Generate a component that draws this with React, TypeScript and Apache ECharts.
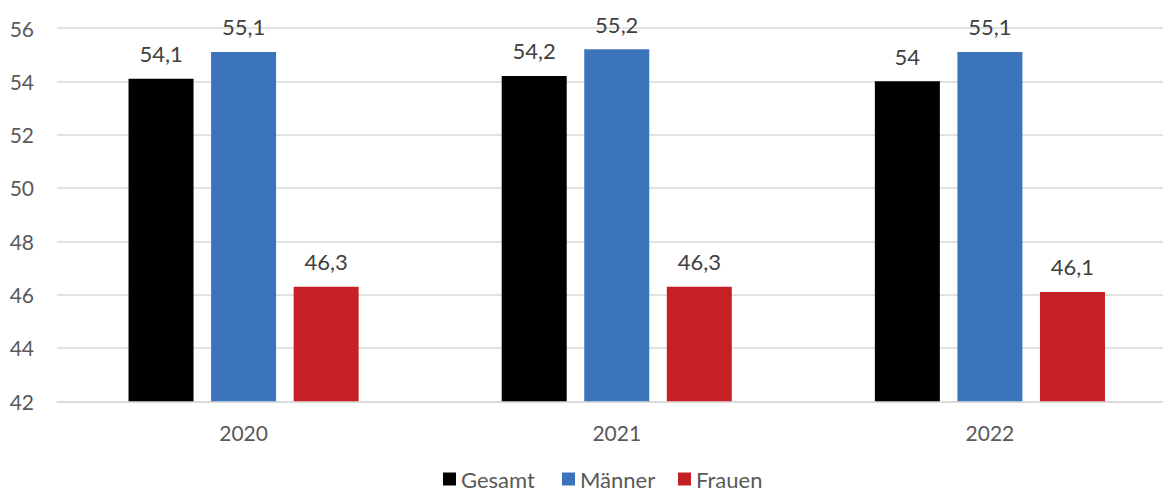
import React, { useEffect, useRef } from "react";
import * as echarts from "echarts";

const categories = ["2020", "2021", "2022"];
const gesamt = [54.1, 54.2, 54];
const maenner = [55.1, 55.2, 55.1];
const frauen = [46.3, 46.3, 46.1];
const seriesNames = ["Gesamt", "Männer", "Frauen"];
const colors = ["#000000", "#3C74BB", "#C42026"];
const legendLefts = [443, 562, 678];

const FONT = "Lato, 'Open Sans', sans-serif";

export default function App() {
  const ref = useRef<HTMLDivElement>(null);
  useEffect(() => {
    if (!ref.current) return;
    const chart = echarts.init(ref.current, undefined, { renderer: "svg" });
    const fmt = (p: any) => String(p.value).replace(".", ",");
    const mk = (name: string, data: number[], color: string) => ({
      name,
      type: "bar",
      data,
      barWidth: 65,
      barGap: "27%",
      itemStyle: { color },
      label: {
        show: true,
        position: "top",
        distance: 14,
        formatter: fmt,
        color: "#404040",
        fontSize: 22,
        fontFamily: FONT,
      },
    });
    chart.setOption({
      animation: false,
      textStyle: { fontFamily: FONT },
      grid: { left: 57, right: 23.5, top: 28, bottom: 91.7, containLabel: false },
      legend: seriesNames.map((n, i) => ({
        data: [n],
        left: legendLefts[i],
        top: 468,
        padding: 0,
        itemWidth: 13,
        itemHeight: 13,
        itemGap: 0,
        icon: "rect",
        textStyle: { color: "#595959", fontSize: 22, lineHeight: 22, fontFamily: FONT },
      })),
      xAxis: {
        type: "category",
        data: categories,
        axisLine: { lineStyle: { color: "#D9D9D9", width: 1.5 } },
        axisTick: { show: false },
        axisLabel: { color: "#595959", fontSize: 21, fontFamily: FONT, margin: 21 },
      },
      yAxis: {
        type: "value",
        min: 42,
        max: 56,
        interval: 2,
        axisLine: { show: false },
        axisTick: { show: false },
        splitLine: { lineStyle: { color: "#D9D9D9", width: 1.5 } },
        axisLabel: { color: "#595959", fontSize: 21, fontFamily: FONT, margin: 23 },
      },
      series: [
        mk(seriesNames[0], gesamt, colors[0]),
        mk(seriesNames[1], maenner, colors[1]),
        mk(seriesNames[2], frauen, colors[2]),
      ],
    });
    return () => chart.dispose();
  }, []);
  return (
    <div style={{ position: "fixed", left: 0, top: 0, width: 1163, height: 493, overflow: "hidden", background: "#fff" }}>
      <div ref={ref} style={{ width: 1200, height: 493 }} />
    </div>
  );
}
